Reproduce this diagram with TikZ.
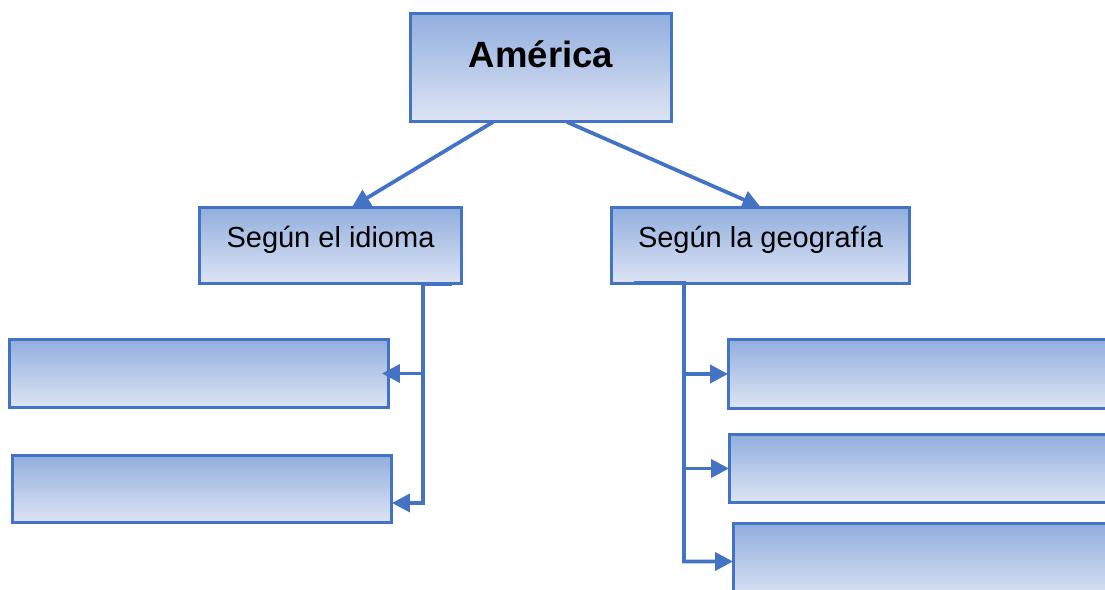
\documentclass[tikz,border=0pt]{standalone}
\usepackage{fontspec}
\setmainfont{Liberation Sans}
\usepackage{xcolor}
\usetikzlibrary{arrows.meta}

\definecolor{boxline}{RGB}{68,114,196}
\definecolor{boxtop}{RGB}{145,174,222}
\definecolor{boxbottom}{RGB}{222,229,244}

\begin{document}
\begin{tikzpicture}[x=0.02cm,y=-0.02cm,
	blankbox/.style={draw=boxline,line width=0.06cm,top color=boxtop,bottom color=boxbottom,inner sep=0pt,outer sep=0pt},
	conn/.style={draw=boxline,line width=0.075cm,-{Triangle[length=0.36cm,width=0.36cm]}},
	titletext/.style={font=\bfseries\fontsize{20.8}{24}\selectfont},
	boxtext/.style={font=\fontsize{16.5}{20}\selectfont}]
	\clip (0,0) rectangle (1105,590);

	\node[blankbox,minimum width=5.24cm,minimum height=2.18cm,label={[titletext,yshift=0.26cm]center:América}] (amer) at (541,67.5) {};
	\node[blankbox,minimum width=5.26cm,minimum height=1.54cm,label={[boxtext,yshift=0.11cm]center:Según el idioma}] (idioma) at (330.5,245.5) {};
	\node[blankbox,minimum width=5.98cm,minimum height=1.54cm,label={[boxtext,yshift=0.11cm]center:Según la geografía}] (geo) at (760.5,245.5) {};

	\node[blankbox,minimum width=7.6cm,minimum height=1.38cm] (idA) at (199,373.5) {};
	\node[blankbox,minimum width=7.6cm,minimum height=1.36cm] (idB) at (202,489) {};

	\node[blankbox,minimum width=7.74cm,minimum height=1.4cm] (geoA) at (921.5,374) {};
	\node[blankbox,minimum width=7.72cm,minimum height=1.38cm] (geoB) at (922,468.5) {};
	\node[blankbox,minimum width=7.64cm,minimum height=1.54cm] (geoC) at (924,561.5) {};

	\draw[conn] ([xshift=-0.96cm]amer.south) -- ([xshift=0.43cm]idioma.north);
	\draw[conn] ([xshift=0.52cm]amer.south) -- (geo.north);

	\coordinate (idtrunk) at (423,284);
	\draw[conn] ([xshift=-0.2cm]idioma.south east) -- (idtrunk) |- ([yshift=-0.28cm]idB.east);
	\draw[conn] (idtrunk |- idA.east) -- ([xshift=-0.14cm]idA.east);

	\coordinate (geotrunk) at (684,283);
	\draw[conn] ([xshift=0.46cm,yshift=0.02cm]geo.south west) -- (geotrunk) |- (geoC.west);
	\draw[conn] (geotrunk |- geoA.west) -- (geoA.west);
	\draw[conn] (geotrunk |- geoB.west) -- (geoB.west);
\end{tikzpicture}
\end{document}
